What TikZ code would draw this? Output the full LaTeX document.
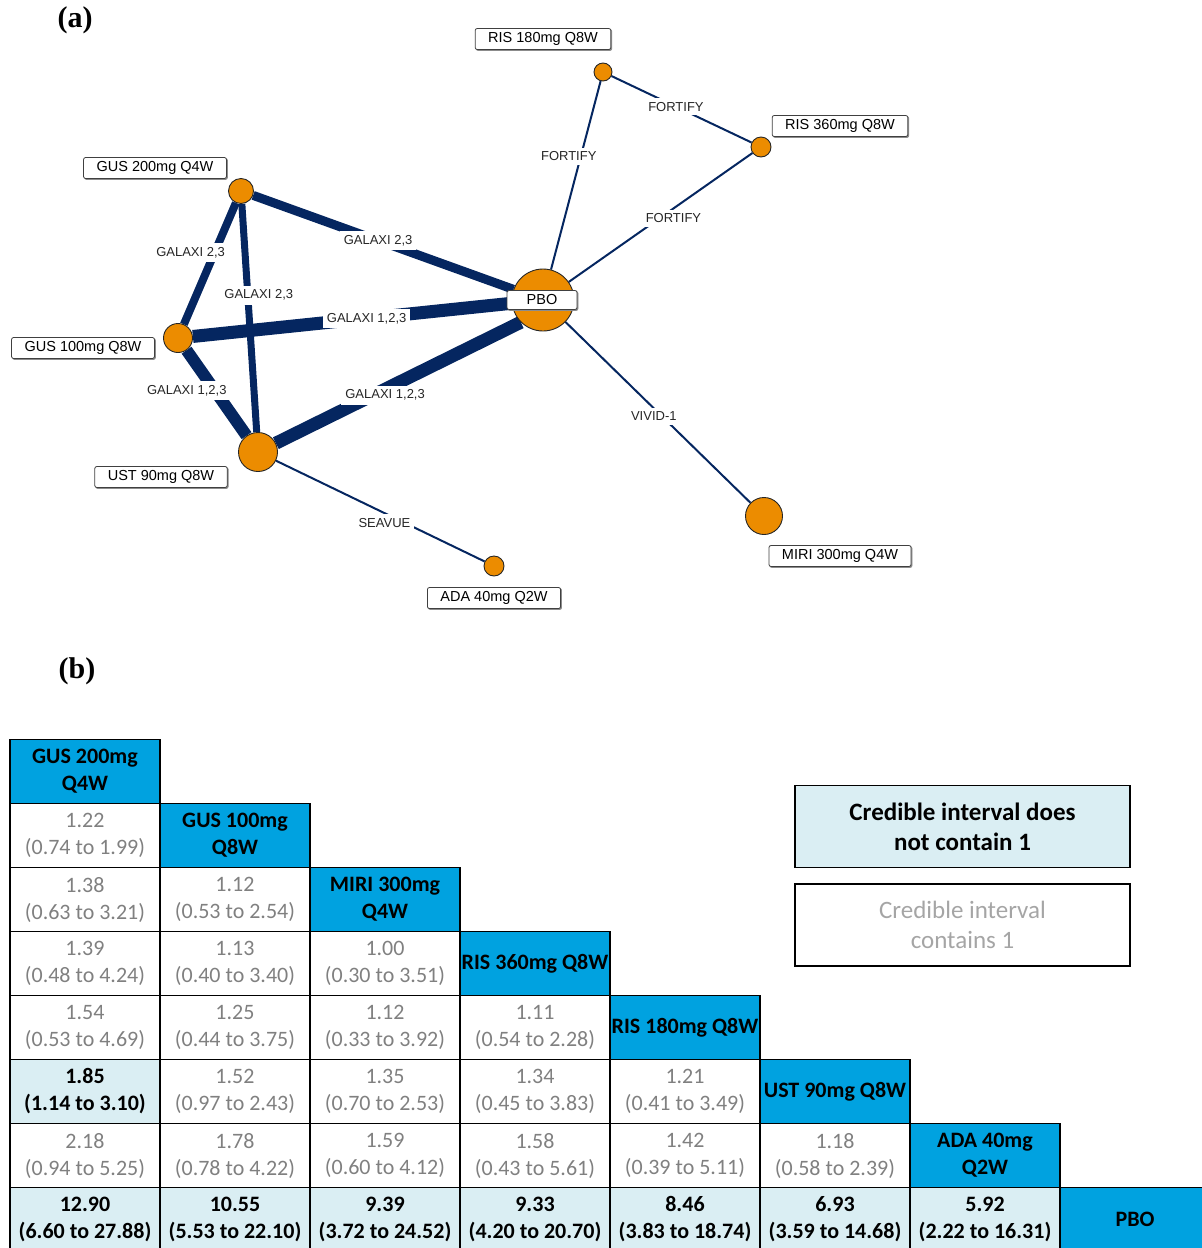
\documentclass[tikz,border=0pt]{standalone}
\usepackage{fontspec}
\setmainfont{Liberation Sans}
\newfontfamily\tabfont{Carlito}
\newfontfamily\serfont{Liberation Serif}
\usetikzlibrary{backgrounds,shadows}
\definecolor{navy}{RGB}{5,38,96}
\definecolor{orng}{RGB}{236,140,0}
\definecolor{hdrblue}{RGB}{0,162,224}
\definecolor{ltblue}{RGB}{218,238,243}
\definecolor{valgray}{RGB}{128,128,128}
\definecolor{leggray}{RGB}{165,165,165}
\newcommand\vcell[4]{\node[tcell, text=valgray] (c-#1-#2) at ({85+150*#2},{771.5+64*#1}) {#3\\#4};}
\newcommand\scell[4]{\node[tcell, fill=ltblue, font=\tabfont\bfseries\fontsize{22}{27}\selectfont] (c-#1-#2) at ({85+150*#2},{771.5+64*#1}) {#3\\#4};}
\newcommand\hcell[2]{\node[tcell, fill=hdrblue, font=\tabfont\bfseries\fontsize{22}{27}\selectfont] (h-#1) at ({85+150*#1},{771.5+64*#1}) {#2};}
\begin{document}
\begin{tikzpicture}[x=1pt,y=-1pt,
  trt/.style={circle, draw=black!85, line width=0.9pt, fill=orng, inner sep=0pt, minimum size=#1},
  tlab/.style={draw=black!75, line width=0.8pt, fill=white, rounded corners=2pt,
    copy shadow={shadow xshift=1pt, shadow yshift=-1pt, draw=black!45, fill=black!45},
    font=\fontsize{14.5}{16}\selectfont, minimum height=21pt, inner xsep=13pt, inner ysep=0pt, text=black},
  lnk/.style={draw=navy, line width=#1},
  elab/.style={fill=white, font=\fontsize{13}{15}\selectfont, inner xsep=4pt, inner ysep=4pt, text=black!85},
  tcell/.style={draw=black, line width=1.2pt, minimum width=150pt, minimum height=64pt,
    inner sep=0pt, align=center, font=\tabfont\fontsize{22}{27}\selectfont},
  legbox/.style={draw=black, line width=1.8pt, minimum width=335pt, minimum height=82pt,
    align=center, font=\tabfont\fontsize{25}{30}\selectfont},
  panel/.style={font=\serfont\bfseries\fontsize{30}{32}\selectfont}
]
\useasboundingbox (0,0) rectangle (1202,1248);

% panel letters
\node[panel] (pa) at (75,20) {(a)};
\node[panel] (pb) at (77,671) {(b)};

% ---------- network ----------
\node[trt=18pt] (r180) at (603,72) {};
\node[trt=20pt] (r360) at (761,147) {};
\node[trt=25pt] (g200) at (241,191) {};
\node[trt=62pt] (pbo) at (543,300) {};
\node[trt=29pt] (g100) at (178,338) {};
\node[trt=39pt] (ust) at (258,452) {};
\node[trt=37pt] (miri) at (764,516) {};
\node[trt=20pt] (ada) at (494,566) {};

\begin{pgfonlayer}{background}
\draw[lnk=9pt] (g200) -- (pbo);
\draw[lnk=13pt] (g100) -- (pbo);
\draw[lnk=13pt] (ust) -- (pbo.225);
\draw[lnk=8pt] (g200) -- (g100);
\draw[lnk=7pt] (g200) -- (ust);
\draw[lnk=12pt] (g100) -- (ust);
\draw[lnk=2pt] (r180) -- (pbo);
\draw[lnk=2pt] (r180) -- (r360);
\draw[lnk=2pt] (r360) -- (pbo);
\draw[lnk=2pt] (pbo) -- (miri);
\draw[lnk=2pt] (ust) -- (ada);
% connector labels
\path (g200) -- node[elab,pos=0.48] (e1) {GALAXI 2,3} (pbo);
\path (g100) -- node[elab,pos=0.545] (e2) {GALAXI 1,2,3} (pbo);
\path (ust) -- node[elab,pos=0.446,yshift=-6pt] (e3) {GALAXI 1,2,3} (pbo.225);
\path (g200) -- node[elab,pos=0.41,xshift=-24pt] (e4) {GALAXI 2,3} (g100);
\path (g200) -- node[elab,pos=0.40,xshift=11pt] (e5) {GALAXI 2,3} (ust);
\path (g100) -- node[elab,pos=0.47,xshift=-28pt] (e6) {GALAXI 1,2,3} (ust);
\path (r180) -- node[elab,pos=0.40,xshift=-12pt] (e7) {FORTIFY} (pbo);
\path (r180) -- node[elab,pos=0.46] (e8) {FORTIFY} (r360);
\path (r360) -- node[elab,pos=0.43,yshift=-10pt] (e9) {FORTIFY} (pbo);
\path (pbo) -- node[elab,pos=0.51,xshift=-6pt,yshift=-2pt] (e10) {VIVID-1} (miri);
\path (ust) -- node[elab,pos=0.52,yshift=-10pt] (e11) {SEAVUE} (ada);
\end{pgfonlayer}

\node[tlab] (lr180) at (543,39) {RIS 180mg Q8W};
\node[tlab] (lr360) at (840,126) {RIS 360mg Q8W};
\node[tlab] (lg200) at (155,168) {GUS 200mg Q4W};
\node[tlab, minimum width=70pt, minimum height=19pt] (lpbo) at (542,300) {PBO};
\node[tlab] (lg100) at (83,348) {GUS 100mg Q8W};
\node[tlab] (lust) at (161,477) {UST 90mg Q8W};
\node[tlab] (lmiri) at (840,556) {MIRI 300mg Q4W};
\node[tlab] (lada) at (494,598) {ADA 40mg Q2W};

% ---------- league table ----------
\hcell{0}{GUS 200mg\\Q4W}
\vcell{1}{0}{1.22}{(0.74 to 1.99)}
\hcell{1}{GUS 100mg\\Q8W}
\vcell{2}{0}{1.38}{(0.63 to 3.21)}
\vcell{2}{1}{1.12}{(0.53 to 2.54)}
\hcell{2}{MIRI 300mg\\Q4W}
\vcell{3}{0}{1.39}{(0.48 to 4.24)}
\vcell{3}{1}{1.13}{(0.40 to 3.40)}
\vcell{3}{2}{1.00}{(0.30 to 3.51)}
\hcell{3}{RIS 360mg Q8W}
\vcell{4}{0}{1.54}{(0.53 to 4.69)}
\vcell{4}{1}{1.25}{(0.44 to 3.75)}
\vcell{4}{2}{1.12}{(0.33 to 3.92)}
\vcell{4}{3}{1.11}{(0.54 to 2.28)}
\hcell{4}{RIS 180mg Q8W}
\scell{5}{0}{1.85}{(1.14 to 3.10)}
\vcell{5}{1}{1.52}{(0.97 to 2.43)}
\vcell{5}{2}{1.35}{(0.70 to 2.53)}
\vcell{5}{3}{1.34}{(0.45 to 3.83)}
\vcell{5}{4}{1.21}{(0.41 to 3.49)}
\hcell{5}{UST 90mg Q8W}
\vcell{6}{0}{2.18}{(0.94 to 5.25)}
\vcell{6}{1}{1.78}{(0.78 to 4.22)}
\vcell{6}{2}{1.59}{(0.60 to 4.12)}
\vcell{6}{3}{1.58}{(0.43 to 5.61)}
\vcell{6}{4}{1.42}{(0.39 to 5.11)}
\vcell{6}{5}{1.18}{(0.58 to 2.39)}
\hcell{6}{ADA 40mg\\Q2W}
\scell{7}{0}{12.90}{(6.60 to 27.88)}
\scell{7}{1}{10.55}{(5.53 to 22.10)}
\scell{7}{2}{9.39}{(3.72 to 24.52)}
\scell{7}{3}{9.33}{(4.20 to 20.70)}
\scell{7}{4}{8.46}{(3.83 to 18.74)}
\scell{7}{5}{6.93}{(3.59 to 14.68)}
\scell{7}{6}{5.92}{(2.22 to 16.31)}
\hcell{7}{PBO}

% legend
\node[legbox, fill=ltblue, font=\tabfont\bfseries\fontsize{25}{30}\selectfont] (leg1) at (962.5,826.5) {Credible interval does\\not contain 1};
\node[legbox, text=leggray] (leg2) at (962.5,925) {Credible interval\\contains 1};
\end{tikzpicture}
\end{document}
